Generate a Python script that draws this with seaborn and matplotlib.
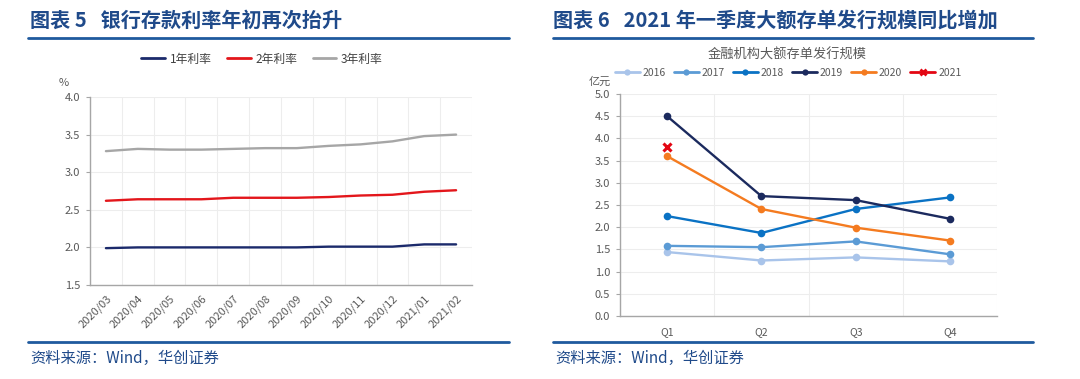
import numpy as np
import pandas as pd
import matplotlib
matplotlib.use("Agg")
import matplotlib.pyplot as plt
import seaborn as sns
from matplotlib.lines import Line2D

# ---------------- data ----------------
months = ["2020/03", "2020/04", "2020/05", "2020/06", "2020/07", "2020/08",
          "2020/09", "2020/10", "2020/11", "2020/12", "2021/01", "2021/02"]
rate_1y = [1.99, 2.00, 2.00, 2.00, 2.00, 2.00, 2.00, 2.01, 2.01, 2.01, 2.04, 2.04]
rate_2y = [2.62, 2.64, 2.64, 2.64, 2.66, 2.66, 2.66, 2.67, 2.69, 2.70, 2.74, 2.76]
rate_3y = [3.28, 3.31, 3.30, 3.30, 3.31, 3.32, 3.32, 3.35, 3.37, 3.41, 3.48, 3.50]
rate_names = ["1年利率", "2年利率", "3年利率"]
rate_colors = ["#1B2A6B", "#E3161B", "#A6A6A6"]

quarters = ["Q1", "Q2", "Q3", "Q4"]
cd_2016 = [1.44, 1.25, 1.32, 1.23]
cd_2017 = [1.58, 1.55, 1.68, 1.39]
cd_2018 = [2.25, 1.87, 2.41, 2.67]
cd_2019 = [4.50, 2.70, 2.61, 2.19]
cd_2020 = [3.60, 2.41, 1.99, 1.70]
cd_2021 = [3.81]
years = ["2016", "2017", "2018", "2019", "2020", "2021"]
year_colors = ["#A9C4EA", "#5B9BD5", "#0A72C4", "#1B2A5E", "#F47B20", "#E30613"]

# ---------------- style ----------------
sns.set_theme(style="white")
plt.rcParams['font.family'] = ['Noto Sans CJK SC', 'DejaVu Sans']
plt.rcParams['axes.unicode_minus'] = False

W, H = 1080, 379
fig = plt.figure(figsize=(W / 100, H / 100), dpi=100)
fig.patch.set_facecolor("white")

def rect(l, t, r, b):
    return [l / W, 1 - b / H, (r - l) / W, (b - t) / H]

def fx(x):
    return x / W

def fy(y):
    return 1 - y / H

title_color = "#1F4A8A"
rule_color = "#1F5A9E"
tick_color = "#595959"
grid_color = "#EDEDED"
spine_color = "#A6A6A6"

# titles, rules, sources
fig.text(fx(30), fy(20), "图表 5   银行存款利率年初再次抬升", fontsize=14.5,
         fontweight="bold", color=title_color, ha="left", va="center")
fig.text(fx(553), fy(20), "图表 6   2021 年一季度大额存单发行规模同比增加", fontsize=14.5,
         fontweight="bold", color=title_color, ha="left", va="center")
for x0, x1 in [(28, 509), (553, 1033)]:
    fig.add_artist(Line2D([fx(x0), fx(x1)], [fy(38), fy(38)], color=rule_color, lw=2))
    fig.add_artist(Line2D([fx(x0), fx(x1)], [fy(342), fy(342)], color=rule_color, lw=2))
fig.text(fx(30), fy(358), "资料来源：Wind，华创证券", fontsize=11, style="italic",
         color=title_color, ha="left", va="center")
fig.text(fx(555), fy(358), "资料来源：Wind，华创证券", fontsize=11, style="italic",
         color=title_color, ha="left", va="center")

def style_axes(ax, n, labels, ylo, yhi, ystep, rot):
    ax.set_facecolor("white")
    ax.set_xlim(-0.5, n - 0.5)
    ax.set_ylim(ylo, yhi)
    ax.set_yticks(np.arange(ylo, yhi + 1e-9, ystep))
    ax.set_yticklabels([f"{v:.1f}" for v in np.arange(ylo, yhi + 1e-9, ystep)])
    ax.set_xticks(range(n))
    if rot:
        ax.set_xticklabels(labels, rotation=45, ha="right", rotation_mode="anchor")
    else:
        ax.set_xticklabels(labels)
    ax.set_xticks(np.arange(-0.5, n, 1), minor=True)
    ax.tick_params(axis="x", which="major", length=0, pad=6, labelsize=8, colors=tick_color)
    ax.tick_params(axis="x", which="minor", length=4, width=0.8, color=spine_color, direction="out")
    ax.tick_params(axis="y", length=3, width=0.8, color=spine_color, labelsize=8,
                   labelcolor=tick_color, pad=4, left=True)
    ax.grid(axis="y", which="major", color=grid_color, lw=0.8)
    ax.grid(axis="x", which="minor", color=grid_color, lw=0.8)
    ax.grid(axis="x", which="major", visible=False)
    for s in ["top", "right"]:
        ax.spines[s].set_visible(False)
    for s in ["left", "bottom"]:
        ax.spines[s].set_color(spine_color)
        ax.spines[s].set_linewidth(1)
    ax.set_xlabel("")
    ax.set_ylabel("")

# ---------------- left chart ----------------
ax1 = fig.add_axes(rect(90, 97, 472, 285))
df1 = pd.DataFrame({
    "x": list(range(len(months))) * 3,
    "value": rate_1y + rate_2y + rate_3y,
    "series": sum([[n] * len(months) for n in rate_names], []),
})
sns.lineplot(data=df1, x="x", y="value", hue="series", hue_order=rate_names,
             palette=dict(zip(rate_names, rate_colors)), linewidth=1.7, ax=ax1, legend=False)
style_axes(ax1, len(months), months, 1.5, 4.0, 0.5, True)
fig.text(fx(64), fy(83), "%", fontsize=8, color=tick_color, ha="center", va="center")
h1 = [Line2D([], [], color=c, lw=2) for c in rate_colors]
fig.legend(h1, rate_names, ncol=3, loc="center", bbox_to_anchor=(fx(262), fy(59)),
           frameon=False, fontsize=8.5, handlelength=2.0, handletextpad=0.4,
           columnspacing=1.3, labelcolor="#404040")

# ---------------- right chart ----------------
ax2 = fig.add_axes(rect(620, 94, 997, 316))
series = [cd_2016, cd_2017, cd_2018, cd_2019, cd_2020, cd_2021]
for yr, vals, c in zip(years, series, year_colors):
    d = pd.DataFrame({"x": list(range(len(vals))), "value": vals})
    if yr == "2021":
        sns.lineplot(data=d, x="x", y="value", color=c, marker="x", markersize=6,
                     markeredgewidth=2.2, markeredgecolor=c, linewidth=1.7, ax=ax2, legend=False)
    else:
        sns.lineplot(data=d, x="x", y="value", color=c, marker="o", markersize=5.5,
                     markeredgewidth=0, linewidth=1.7, ax=ax2, legend=False)
style_axes(ax2, len(quarters), quarters, 0.0, 5.0, 0.5, False)
ax2.tick_params(axis="x", which="major", pad=8, labelsize=7.5)
fig.text(fx(787), fy(55), "金融机构大额存单发行规模", fontsize=9.5, color=tick_color,
         ha="center", va="center")
fig.text(fx(600), fy(82), "亿元", fontsize=8, color=tick_color, ha="center", va="center")
h2 = []
for yr, c in zip(years, year_colors):
    if yr == "2021":
        h2.append(Line2D([], [], color=c, lw=2, marker="x", markersize=5, markeredgewidth=2))
    else:
        h2.append(Line2D([], [], color=c, lw=2, marker="o", markersize=4.5, markeredgewidth=0))
fig.legend(h2, years, ncol=6, loc="center", bbox_to_anchor=(fx(788), fy(73)),
           frameon=False, fontsize=7.5, handlelength=2.4, handletextpad=0.25,
           columnspacing=0.8, labelcolor=tick_color)

fig.savefig("out.png", dpi=100, facecolor="white")
